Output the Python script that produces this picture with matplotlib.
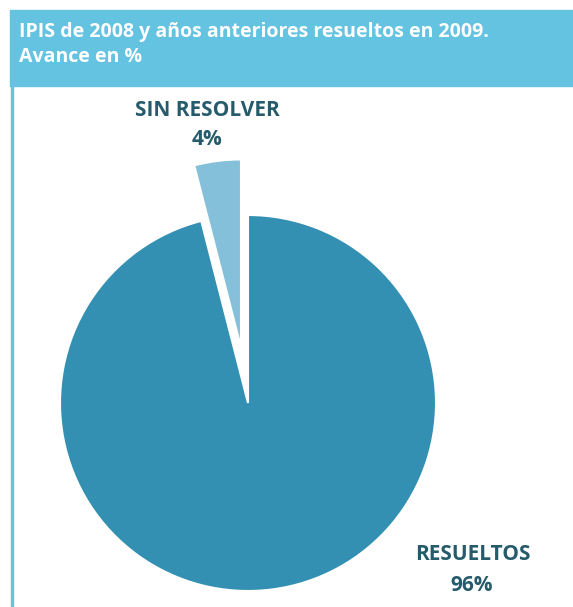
import matplotlib
matplotlib.use('Agg')
import matplotlib.pyplot as plt
from matplotlib.patches import Rectangle

# data
labels = ['RESUELTOS', 'SIN RESOLVER']
values = [96, 4]
explode = [0, 56]   # pie uses data units here (axes in pixel-like coords)
colors = ['#3390B2', '#84C0DA']

title_lines = ['IPIS de 2008 y años anteriores resueltos en 2009.', 'Avance en %']

W, H = 573, 607
fig = plt.figure(figsize=(W / 100, H / 100), dpi=100)
ax = fig.add_axes([0, 0, 1, 1])

# pixel-like coordinates, y upward
ax.pie(values, explode=explode, colors=colors, startangle=90, counterclock=False,
       center=(248, H - 403), radius=188,
       wedgeprops={'linewidth': 1.5, 'edgecolor': 'white'})

ax.set_xlim(0, W)
ax.set_ylim(0, H)
ax.set_aspect('auto')
ax.axis('off')

hdr = '#63C3E0'
ax.add_patch(Rectangle((10, H - 86), W - 10, 76, color=hdr, zorder=0))
ax.add_patch(Rectangle((11, 0), 2.2, H - 86, color=hdr, zorder=0))

font = 'Open Sans'
ax.text(19, H - 37, title_lines[0], color='white', fontsize=14, fontweight='bold',
        family=font, va='baseline', ha='left')
ax.text(19, H - 62, title_lines[1], color='white', fontsize=14, fontweight='bold',
        family=font, va='baseline', ha='left')

lab = '#255B6A'
ax.text(207, H - 116, labels[1], color=lab, fontsize=15, fontweight='bold',
        family=font, ha='center', va='baseline')
ax.text(207, H - 145, '%d%%' % values[1], color=lab, fontsize=15, fontweight='bold',
        family=font, ha='center', va='baseline')
ax.text(473, H - 560, labels[0], color=lab, fontsize=15, fontweight='bold',
        family=font, ha='center', va='baseline')
ax.text(472, H - 591, '%d%%' % values[0], color=lab, fontsize=15, fontweight='bold',
        family=font, ha='center', va='baseline')

fig.savefig('out.png', dpi=100)
